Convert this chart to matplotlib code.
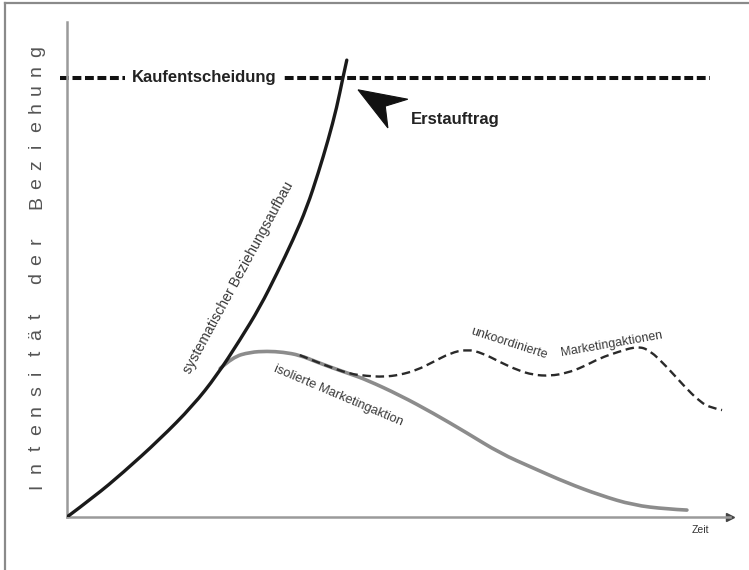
#!/usr/bin/env python3
"""Beziehungsaufbau bis zur Kaufentscheidung (schematic)."""
import matplotlib
matplotlib.use('Agg')
import matplotlib.pyplot as plt
from matplotlib.patches import Polygon, PathPatch
from matplotlib.path import Path
from matplotlib.lines import Line2D

plt.rcParams['font.family'] = ['Liberation Sans', 'DejaVu Sans']

# Curves (x: Zeit 0..100, y: Intensitaet 0..100)
sys_x = [0, 4.2, 8.4, 14.0, 19.0, 22.6, 26.1, 29.1, 31.7, 34.1, 36.2, 37.9, 39.4,
         40.7, 41.6, 42.2]
sys_y = [0, 4.2, 8.9, 15.7, 22.5, 28.6, 35.8, 42.4, 49.3, 56.0, 62.6, 69.5, 76.2,
         82.8, 88.7, 92.3]

iso_x = [23.1, 25.0, 27.6, 30.2, 32.6, 35.1, 37.7, 40.1, 42.7, 45.2, 50.2, 55.2, 60.3,
         65.3, 70.3, 75.4, 80.4, 85.4, 90.5, 93.5]
iso_y = [30.0, 32.3, 33.3, 33.5, 33.3, 32.7, 31.3, 30.1, 28.9, 27.7, 24.6, 21.0, 17.0,
         12.9, 9.9, 6.9, 4.4, 2.4, 1.6, 1.4]

unk_x = [35.1, 37.7, 40.1, 42.7, 45.2, 47.7, 50.2, 52.8, 55.2, 57.8, 60.3, 62.7, 65.3,
         67.9, 70.3, 72.9, 75.4, 77.8, 80.4, 83.0, 86.0, 87.9, 90.5, 92.9, 95.5, 97.3,
         98.8]
unk_y = [32.7, 31.3, 30.1, 28.9, 28.5, 28.3, 28.7, 29.7, 31.3, 33.1, 33.9, 33.1, 31.3,
         29.7, 28.7, 28.5, 29.1, 30.3, 32.1, 33.3, 34.5, 33.7, 30.3, 26.7, 23.2, 22.0,
         21.6]

kauf_y = 88.7
kauf_x = [-1, 97]

ylabel = 'Intensität der Beziehung'


def smooth_path(xs, ys):
    """Quadratic bezier through the midpoints, control points at the read values."""
    pts = list(zip(xs, ys))
    verts = [pts[0]]
    codes = [Path.MOVETO]
    for i in range(1, len(pts) - 1):
        mid = ((pts[i][0] + pts[i + 1][0]) / 2, (pts[i][1] + pts[i + 1][1]) / 2)
        if i == len(pts) - 2:
            mid = pts[-1]
        verts += [pts[i], mid]
        codes += [Path.CURVE3, Path.CURVE3]
    return Path(verts, codes)


fig = plt.figure(figsize=(7.49, 5.70), dpi=100)
ax = fig.add_axes([67 / 749, 53 / 570, 663 / 749, 495 / 570])
ax.set_xlim(0, 100)
ax.set_ylim(0, 100)
ax.set_xticks([])
ax.set_yticks([])
for s in ['top', 'right']:
    ax.spines[s].set_visible(False)
for s in ['left', 'bottom']:
    ax.spines[s].set_color('#9a9a9a')
    ax.spines[s].set_linewidth(1.8)
ax.plot([1], [0], marker='>', color='#444444', markersize=6,
        transform=ax.transAxes, clip_on=False)

# picture frame (top / left)
fig.add_artist(Line2D([5 / 749, 5 / 749], [0, 567 / 570], color='#8a8a8a', lw=1.6))
fig.add_artist(Line2D([5 / 749, 1], [567 / 570, 567 / 570], color='#8a8a8a', lw=1.6))

# Kaufentscheidung
ax.plot(kauf_x, [kauf_y, kauf_y], color='#111111', lw=2.9,
        ls=(0, (2.2, 0.9)), clip_on=False, zorder=2)
ax.text(20.7, kauf_y, 'Kaufentscheidung', ha='center', va='center', fontsize=12,
        fontweight='bold', color='#222222', zorder=3,
        bbox=dict(facecolor='white', edgecolor='none', pad=5))

# curves
ax.add_patch(PathPatch(smooth_path(iso_x, iso_y), fill=False, edgecolor='#8c8c8c',
                       lw=2.6, capstyle='round', zorder=3))
ax.add_patch(PathPatch(smooth_path(unk_x, unk_y), fill=False, edgecolor='#2a2a2a',
                       lw=1.7, ls=(0, (3.6, 2.0)), zorder=3))
ax.add_patch(PathPatch(smooth_path(sys_x, sys_y), fill=False, edgecolor='#1a1a1a',
                       lw=2.4, capstyle='round', zorder=4))

# Erstauftrag
ax.add_patch(Polygon([(43.9, 86.3), (51.4, 84.4), (48.0, 83.0), (48.4, 78.6)],
                     closed=True, facecolor='#111111', edgecolor='#111111', lw=0.8))
ax.text(51.8, 80.4, 'Erstauftrag', ha='left', va='center', fontsize=12,
        fontweight='bold', color='#222222')

# curve labels
lab = dict(color='#3a3a3a', ha='center', va='center', rotation_mode='anchor')
ax.text(25.9, 48.3, 'systematischer Beziehungsaufbau', rotation=61.5,
        fontsize=10.2, **lab)
ax.text(40.9, 24.6, 'isolierte Marketingaktion', rotation=-23, fontsize=9.3, **lab)
ax.text(66.6, 35.0, 'unkoordinierte', rotation=-18, fontsize=9.0, **lab)
ax.text(82.2, 34.9, 'Marketingaktionen', rotation=10, fontsize=9.0, **lab)

# axis labels
ax.text(95.5, -2.6, 'Zeit', ha='center', va='center', fontsize=7.5,
        color='#333333', clip_on=False)
step = 18.9 / 4.95
y0 = (517 - 486) / 4.95
for i, ch in enumerate(ylabel):
    if ch == ' ':
        continue
    ax.text(-4.6, y0 + i * step, ch, rotation=90, ha='center', va='center',
            fontsize=14, color='#555555', clip_on=False)

fig.savefig('out.png', dpi=100)
